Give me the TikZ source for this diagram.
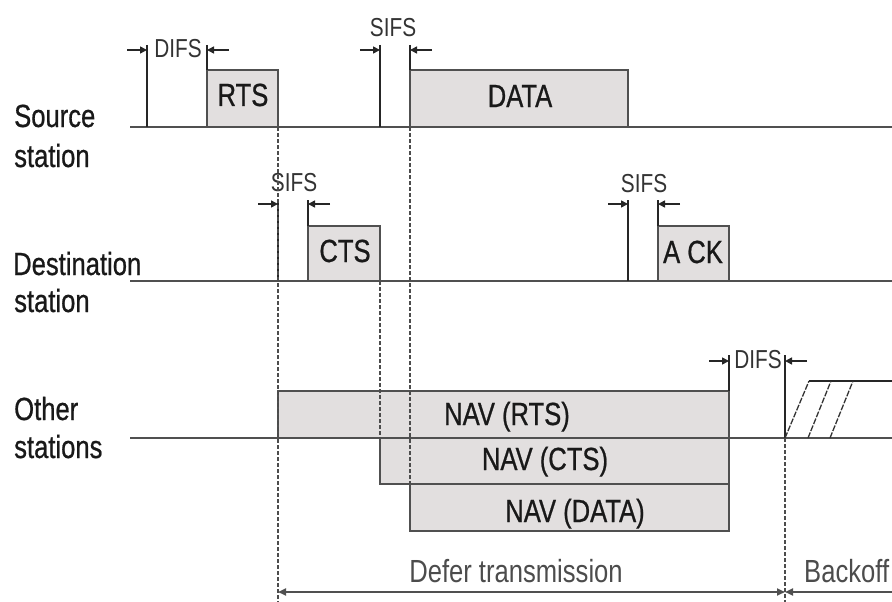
\documentclass[tikz,border=0pt]{standalone}
\usepackage{fontspec}
\setmainfont{Liberation Sans}[FakeStretch=0.8]
\newfontfamily\heavyfont{Liberation Sans}[FakeStretch=0.8,FakeBold=0.7]
\usetikzlibrary{arrows.meta}
\definecolor{navfill}{RGB}{226,223,223}
\definecolor{lanegray}{RGB}{80,80,80}
\tikzset{
  lane/.style={draw=lanegray,line width=2.4pt},
  frame/.style={draw=lanegray,fill=navfill,line width=1.4pt},
  tick/.style={draw=black!85,line width=1.4pt},
  gap/.style={-{Triangle[length=7pt,width=7pt]},line width=1.6pt,draw=black!85},
  guide/.style={draw=black!70,line width=1.3pt,dash pattern=on 3.5pt off 2.5pt},
  slot/.style={draw=black!80,line width=1.3pt,dash pattern=on 6pt off 1.5pt},
  span/.style={draw=lanegray,line width=1.9pt},
  big/.style={font=\heavyfont\fontsize{32}{38}\selectfont,anchor=base,inner sep=0pt,text=black!90},
  small/.style={font=\fontsize{26}{30}\selectfont,anchor=base,inner sep=0pt,text=black!80},
  note/.style={font=\fontsize{32}{38}\selectfont,anchor=base,inner sep=0pt,text=black!70}
}
\begin{document}
\begin{tikzpicture}[x=1pt,y=-1pt]
  \useasboundingbox (0,0) rectangle (892,602);

  % station labels
  \node[big,anchor=base west] (srcA) at (14,127) {Source};
  \node[big,anchor=base west] (srcB) at (14,167) {station};
  \node[big,anchor=base west] (dstA) at (13,275) {Destination};
  \node[big,anchor=base west] (dstB) at (14,312) {station};
  \node[big,anchor=base west] (othA) at (14,420) {Other};
  \node[big,anchor=base west] (othB) at (14,458) {stations};

  % frames
  \draw[frame] (207,70) rectangle (278,127);
  \draw[frame] (410,70) rectangle (628,127);
  \draw[frame] (308,226) rectangle (380,281);
  \draw[frame] (658,226) rectangle (729,281);
  \draw[frame] (278,391) rectangle (729,438);
  \draw[frame] (380,438) rectangle (729,484);
  \draw[frame] (410,484) rectangle (729,531);
  \node[big] (rts) at (243,106) {RTS};
  \node[big] (data) at (520,107) {DATA};
  \node[big] (cts) at (345,262) {CTS};
  \node[big] (ack) at (693,263) {A CK};
  \node[big] (navrts) at (507,425) {NAV (RTS)};
  \node[big] (navcts) at (545,470) {NAV (CTS)};
  \node[big] (navdata) at (575,522) {NAV (DATA)};

  % time lines
  \draw[lane] (130,127) -- (892,127);
  \draw[lane] (130,281) -- (892,281);
  \draw[lane] (130,438) -- (892,438);

  % interframe spaces
  \draw[tick] (147,45) -- (147,127) (207,45) -- (207,70);
  \draw[tick] (380,45) -- (380,127) (410,45) -- (410,70);
  \draw[tick] (278,200) -- (278,281) (308,200) -- (308,226);
  \draw[tick] (628,200) -- (628,281) (658,200) -- (658,226);
  \draw[tick] (729,355) -- (729,391) (785,355) -- (785,438);
  \foreach \l/\r/\y in {147/207/50, 380/410/50, 278/308/204, 628/658/204, 729/785/361} {
    \draw[gap] (\l-20,\y) -- (\l,\y);
    \draw[gap] (\r+22,\y) -- (\r,\y);
  }
  \node[small] (difsA) at (178,58) {DIFS};
  \node[small] (sifsA) at (393,37) {SIFS};
  \node[small] (sifsB) at (294,191) {SIFS};
  \node[small] (sifsC) at (644,192) {SIFS};
  \node[small] (difsB) at (758,368) {DIFS};

  % backoff slots
  \draw[tick] (809,381) -- (892,381);
  \draw[slot] (785,438) -- (809,381);
  \draw[slot] (808,438) -- (831,381);
  \draw[slot] (830,438) -- (853,381);

  % guides
  \draw[guide] (278,127) -- (278,602);
  \draw[guide] (380,281) -- (380,438);
  \draw[guide] (410,127) -- (410,484);
  \draw[guide] (785,438) -- (785,602);

  % defer / backoff spans
  \draw[span,{Triangle[length=8pt,width=7pt]}-{Triangle[length=8pt,width=7pt]}] (278,592) -- (785,592);
  \draw[span,-{Triangle[length=8pt,width=7pt]}] (892,592) -- (785,592);
  \node[note] (defer) at (516,582) {Defer transmission};
  \node[note,anchor=base west] (boff) at (804,582) {Backoff};
\end{tikzpicture}
\end{document}
